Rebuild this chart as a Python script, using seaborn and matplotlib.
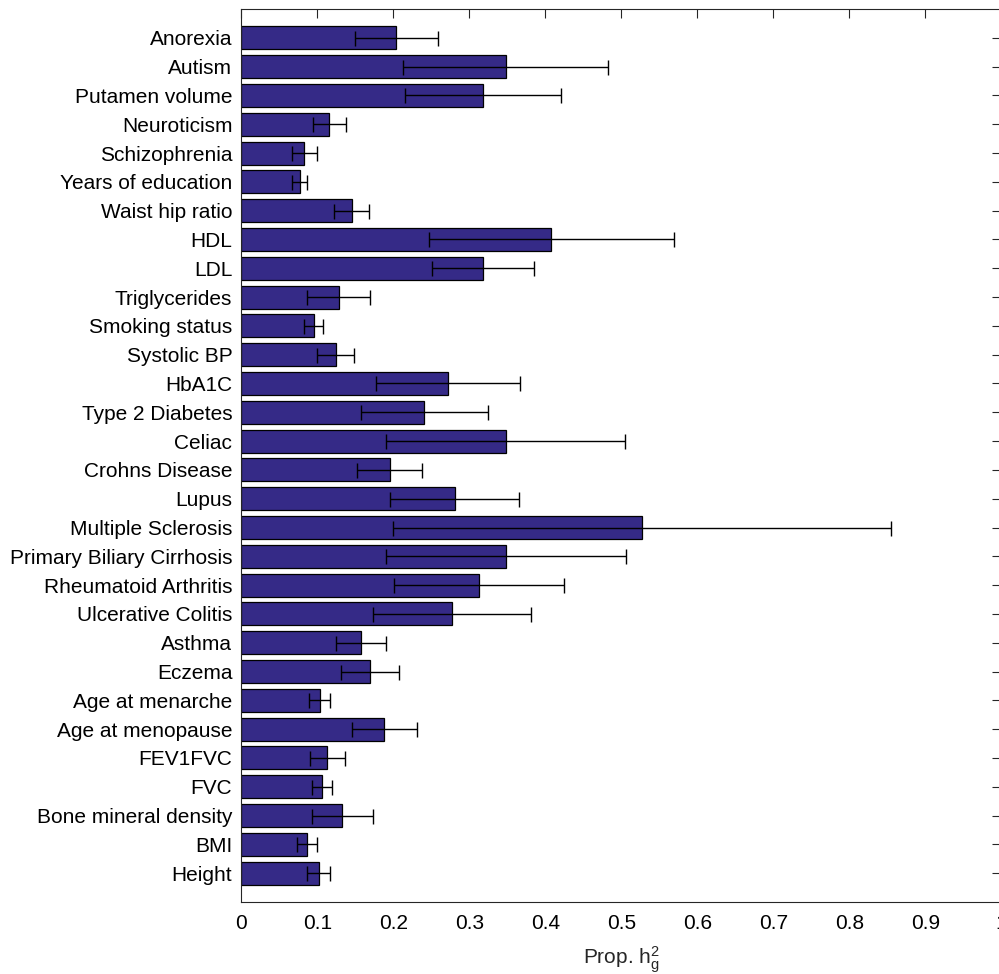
"""
Доля наследуемости (prop. h2_g) по признакам, горизонтальные столбцы с ошибками.

Вывод: out.png
"""

import matplotlib

matplotlib.use("Agg")
import matplotlib.pyplot as plt
import numpy as np
import pandas as pd
import seaborn as sns

traits = [
    "Anorexia", "Autism", "Putamen volume", "Neuroticism", "Schizophrenia",
    "Years of education", "Waist hip ratio", "HDL", "LDL", "Triglycerides",
    "Smoking status", "Systolic BP", "HbA1C", "Type 2 Diabetes", "Celiac",
    "Crohns Disease", "Lupus", "Multiple Sclerosis", "Primary Biliary Cirrhosis",
    "Rheumatoid Arthritis", "Ulcerative Colitis", "Asthma", "Eczema",
    "Age at menarche", "Age at menopause", "FEV1FVC", "FVC",
    "Bone mineral density", "BMI", "Height",
]
prop_h2 = [
    0.204, 0.348, 0.318, 0.116, 0.083,
    0.077, 0.145, 0.408, 0.318, 0.128,
    0.095, 0.124, 0.272, 0.241, 0.348,
    0.195, 0.281, 0.527, 0.348,
    0.313, 0.277, 0.157, 0.169,
    0.103, 0.188, 0.113, 0.106,
    0.133, 0.086, 0.102,
]
err = [
    0.055, 0.135, 0.103, 0.022, 0.016,
    0.010, 0.023, 0.161, 0.067, 0.041,
    0.013, 0.024, 0.095, 0.083, 0.157,
    0.043, 0.085, 0.328, 0.158,
    0.112, 0.104, 0.033, 0.038,
    0.014, 0.043, 0.023, 0.013,
    0.040, 0.013, 0.015,
]
x_ticks = [0, 0.1, 0.2, 0.3, 0.4, 0.5, 0.6, 0.7, 0.8, 0.9, 1]
x_tick_labels = ["0", "0.1", "0.2", "0.3", "0.4", "0.5", "0.6", "0.7", "0.8", "0.9", "1"]

BAR_COLOR = "#352a87"
AX_COLOR = "#262626"
FS = 15

sns.set_style("white")
plt.rcParams["font.family"] = ["Liberation Sans", "DejaVu Sans"]
plt.rcParams["mathtext.default"] = "regular"

df = pd.DataFrame({"trait": traits, "h2": prop_h2, "err": err})

W, H = 999, 974
fig = plt.figure(figsize=(W / 100, H / 100), dpi=100)
ax = fig.add_axes([241.3 / W, (H - 902) / H, 760 / W, 893 / H])

sns.barplot(
    data=df, x="h2", y="trait", orient="h", color=BAR_COLOR, saturation=1,
    edgecolor="black", linewidth=0.9, width=0.8, ax=ax,
)
ypos = np.arange(len(traits))
ax.errorbar(
    df["h2"], ypos, xerr=df["err"], fmt="none", ecolor="black",
    elinewidth=1.0, capsize=5.4, capthick=1.0, zorder=3,
)

ax.set_xlim(0, 1)
ax.set_ylim(len(traits), -1)
ax.set_xticks(x_ticks)
ax.set_xticklabels(x_tick_labels)
ax.set_axisbelow(True)
ax.tick_params(
    axis="both", direction="in", length=6.5, width=0.8, color=AX_COLOR,
    labelsize=FS, labelcolor="black", top=True, right=True,
)
ax.tick_params(axis="y", pad=6.5)
ax.tick_params(axis="x", pad=8.5)
for sp in ax.spines.values():
    sp.set_visible(True)
    sp.set_color(AX_COLOR)
    sp.set_linewidth(0.8)

ax.set_ylabel("")
ax.set_xlabel(r"Prop. h$_{g}^{2}$", fontsize=FS, labelpad=8)

fig.savefig("out.png", dpi=100)
plt.close(fig)
